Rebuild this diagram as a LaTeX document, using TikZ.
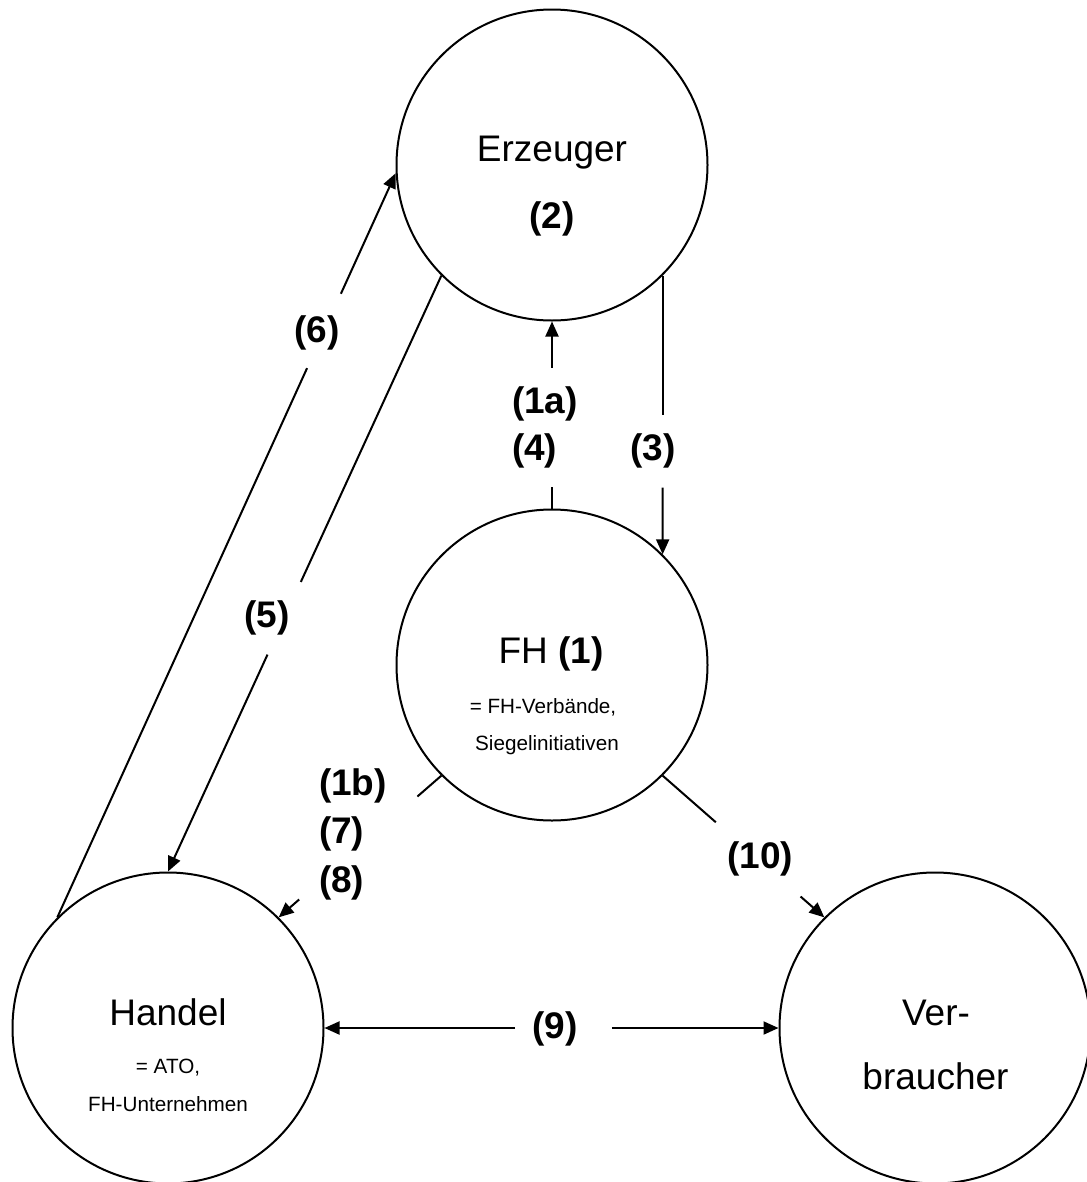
\documentclass[tikz,border=0pt]{standalone}
\usepackage{fontspec}
\setmainfont{Liberation Sans}
\usetikzlibrary{arrows.meta,calc}

\tikzset{every picture/.style={line width=1.5pt}}
\tikzset{
  party/.style={circle,draw,minimum size=233.25pt,inner sep=0pt},
  big/.style={font=\fontsize{27.75}{33}\selectfont,inner sep=0pt,anchor=base},
  small/.style={font=\fontsize{15.5}{18}\selectfont,inner sep=0pt,anchor=base},
  num/.style={font=\fontsize{27.75}{33}\selectfont\bfseries,inner sep=0pt,anchor=base},
  arr/.style={-{Triangle[length=11.25pt,width=9.75pt]}},
}

\begin{document}
\begin{tikzpicture}[x=0.75pt,y=0.75pt,yscale=-1,xscale=1]
\useasboundingbox (0,0) rectangle (1086,1182);

%Circles
\node[party] (erz) at (552,165) {};
\node[party] (fh) at (552,665) {};
\node[party] (han) at (168,1028) {};
\node[party] (ver) at (935,1028) {};

% Text Node
\node[big] (erzT) at (552,161) {Erzeuger};
\node[num] (erzN) at (552,228) {(2)};
\node[big] (fhT) at (551,663) {FH \textbf{(1)}};
\node[small] (fhA) at (543,713) {= FH-Verbände,};
\node[small] (fhB) at (547,750) {Siegelinitiativen};
\node[big] (hanT) at (168,1025) {Handel};
\node[small] (hanA) at (168,1073) {= ATO,};
\node[small] (hanB) at (168,1111) {FH-Unternehmen};
\node[big] (verA) at (936,1025) {Ver-};
\node[big] (verB) at (935.5,1089) {braucher};

% Labels
\node[num] (l6) at (317,342) {(6)};
\node[num] (l5) at (267,627) {(5)};
\node[num,anchor=base west] (l1a) at (511,413) {(1a)};
\node[num,anchor=base west] (l4) at (511,460) {(4)};
\node[num] (l3) at (653,460) {(3)};
\node[num,anchor=base west] (l1b) at (318,795) {(1b)};
\node[num,anchor=base west] (l7) at (318,843) {(7)};
\node[num,anchor=base west] (l8) at (318,892) {(8)};
\node[num] (l10) at (760,868) {(10)};
\node[num] (l9) at (555,1038) {(9)};

% Gap ends
\coordinate (g6a) at ($(han.135)!0.738!(erz.183)$);
\coordinate (g6b) at ($(han.135)!0.838!(erz.183)$);
\coordinate (g5a) at ($(erz.225)!0.514!(han.north)$);
\coordinate (g5b) at ($(erz.225)!0.636!(han.north)$);
\coordinate (g4a) at ($(fh.north)!0.114!(erz.south)$);
\coordinate (g4b) at ($(fh.north)!0.754!(erz.south)$);
\coordinate (g3a) at ($(erz.-45)!0.5!(fh.45)$);
\coordinate (g3b) at ($(erz.-45)!0.761!(fh.45)$);
\coordinate (g7a) at ($(fh.225)!0.147!(han.45)$);
\coordinate (g7b) at ($(fh.225)!0.874!(han.45)$);
\coordinate (g10a) at ($(fh.-45)!0.329!(ver.135)$);
\coordinate (g10b) at ($(fh.-45)!0.853!(ver.135)$);
\coordinate (g9a) at ($(han.east)!0.42!(ver.west)$);
\coordinate (g9b) at ($(han.east)!0.633!(ver.west)$);

%Straight Lines
\draw (han.135) -- (g6a);
\draw[arr] (g6b) -- (erz.183);
\draw (erz.225) -- (g5a);
\draw[arr] (g5b) -- (han.north);
\draw (fh.north) -- (g4a);
\draw[arr] (g4b) -- (erz.south);
\draw (erz.-45) -- (g3a);
\draw[arr] (g3b) -- (fh.45);
\draw (fh.225) -- (g7a);
\draw[arr] (g7b) -- (han.45);
\draw (fh.-45) -- (g10a);
\draw[arr] (g10b) -- (ver.135);
\draw[arr] (g9a) -- (han.east);
\draw[arr] (g9b) -- (ver.west);

\end{tikzpicture}
\end{document}
